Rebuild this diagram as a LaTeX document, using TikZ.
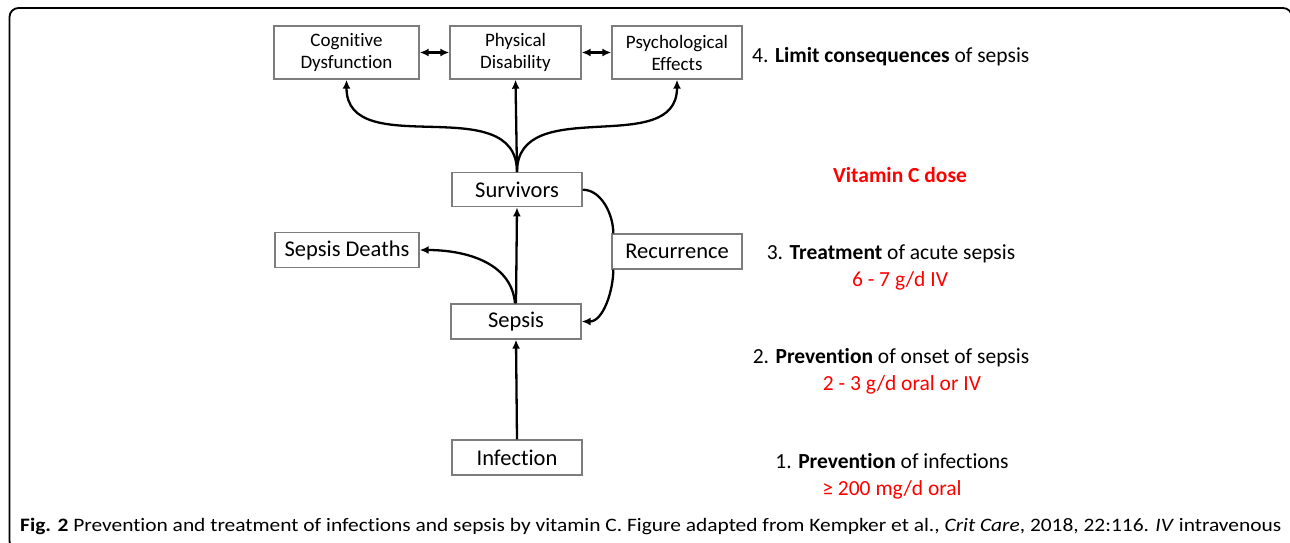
\documentclass[tikz,border=0pt]{standalone}
\usepackage{fontspec}
\setmainfont[Ligatures={NoCommon,NoDiscretionary,NoContextual},RawFeature={-liga;-clig;-calt;-dlig;-rlig}]{Carlito}
\usetikzlibrary{arrows.meta}
\definecolor{boxgray}{RGB}{125,125,125}
\definecolor{dosered}{RGB}{255,0,0}
\begin{document}
\begin{tikzpicture}[x=1pt,y=-1pt,
  box/.style={draw=boxgray,line width=1.4pt,rectangle,inner sep=0pt,align=center},
  bigbox/.style={box,font=\fontsize{22.5}{24}\selectfont},
  twobox/.style={box,font=\fontsize{19}{22}\selectfont},
  arr/.style={line width=2.3pt,-{Latex[length=9pt,width=8pt]}},
  darr/.style={line width=2.3pt,{Latex[length=9pt,width=8pt]}-{Latex[length=9pt,width=8pt]}},
  link/.style={line width=2.3pt},
  side/.style={anchor=base,font=\fontsize{21.5}{24}\selectfont,inner sep=0pt},
  dose/.style={side,text=dosered}]
\useasboundingbox (0,0) rectangle (1290,542);
\draw[line width=1.8pt,rounded corners=9pt] (9.5,8) rectangle (1292,550);
% boxes
\node[twobox,minimum width=145pt,minimum height=53pt] (cog) at (346.5,52.5) {Cognitive\\Dysfunction};
\node[twobox,minimum width=131pt,minimum height=53pt] (phys) at (515.5,52.5) {Physical\\Disability};
\node[twobox,minimum width=130pt,minimum height=53pt] (psych) at (677,52.5) {Psychological\\Effects};
\node[bigbox,minimum width=130pt,minimum height=34pt] (surv) at (517,189.7) {Survivors};
\node[bigbox,minimum width=144pt,minimum height=35pt] (deaths) at (347,250) {Sepsis Deaths};
\node[bigbox,minimum width=130pt,minimum height=35pt] (recur) at (677,251.5) {Recurrence};
\node[bigbox,minimum width=130pt,minimum height=35pt] (sepsis) at (516,321.5) {Sepsis};
\node[bigbox,minimum width=130pt,minimum height=35pt] (infect) at (517,457.5) {Infection};
% connectors
\draw[arr] (infect.north) -- (sepsis.south);
\draw[arr] (sepsis.north) -- (surv.south);
\draw[arr] ([xshift=-1pt]sepsis.north) to[out=95,in=0,looseness=1.0] (deaths.east);
\draw[link] (surv.east) to[out=0,in=90,looseness=0.9] ([xshift=2pt]recur.north west);
\draw[arr] ([xshift=2pt]recur.south west) to[out=-90,in=0,looseness=0.9] (sepsis.east);
\draw[arr] (surv.north) -- (phys.south);
\draw[arr] (surv.north) to[out=90,in=-90,looseness=1.1] (cog.south);
\draw[arr] (surv.north) to[out=90,in=-90,looseness=1.1] (psych.south);
\draw[darr] (cog.east) -- (phys.west);
\draw[darr] (phys.east) -- (psych.west);
% side texts
\node[side,anchor=base west] (t4) at (752,62) {4. \textbf{Limit consequences} of sepsis};
\node[dose,font=\fontsize{21.5}{24}\selectfont\bfseries] (vc) at (900,182) {Vitamin C dose};
\node[side] (t3) at (891,259) {3. \textbf{Treatment} of acute sepsis};
\node[dose] (d3) at (900,286) {6 - 7 g/d IV};
\node[side] (t2) at (891,363) {2. \textbf{Prevention} of onset of sepsis};
\node[dose] (d2) at (902,390) {2 - 3 g/d oral or IV};
\node[side] (t1) at (892,468) {1. \textbf{Prevention} of infections};
\node[dose] (d1) at (892,495) {≥ 200 mg/d oral};
% caption
\node[anchor=base west,inner sep=0pt,font=\fontsize{19}{22}\selectfont] (cap) at (20,531)
 {\resizebox{1261pt}{\height}{\textbf{Fig. 2} Prevention and treatment of infections and sepsis by vitamin C. Figure adapted from Kempker et al., \textit{Crit Care}, 2018, 22:116. \textit{IV} intravenous}};
\end{tikzpicture}
\end{document}
